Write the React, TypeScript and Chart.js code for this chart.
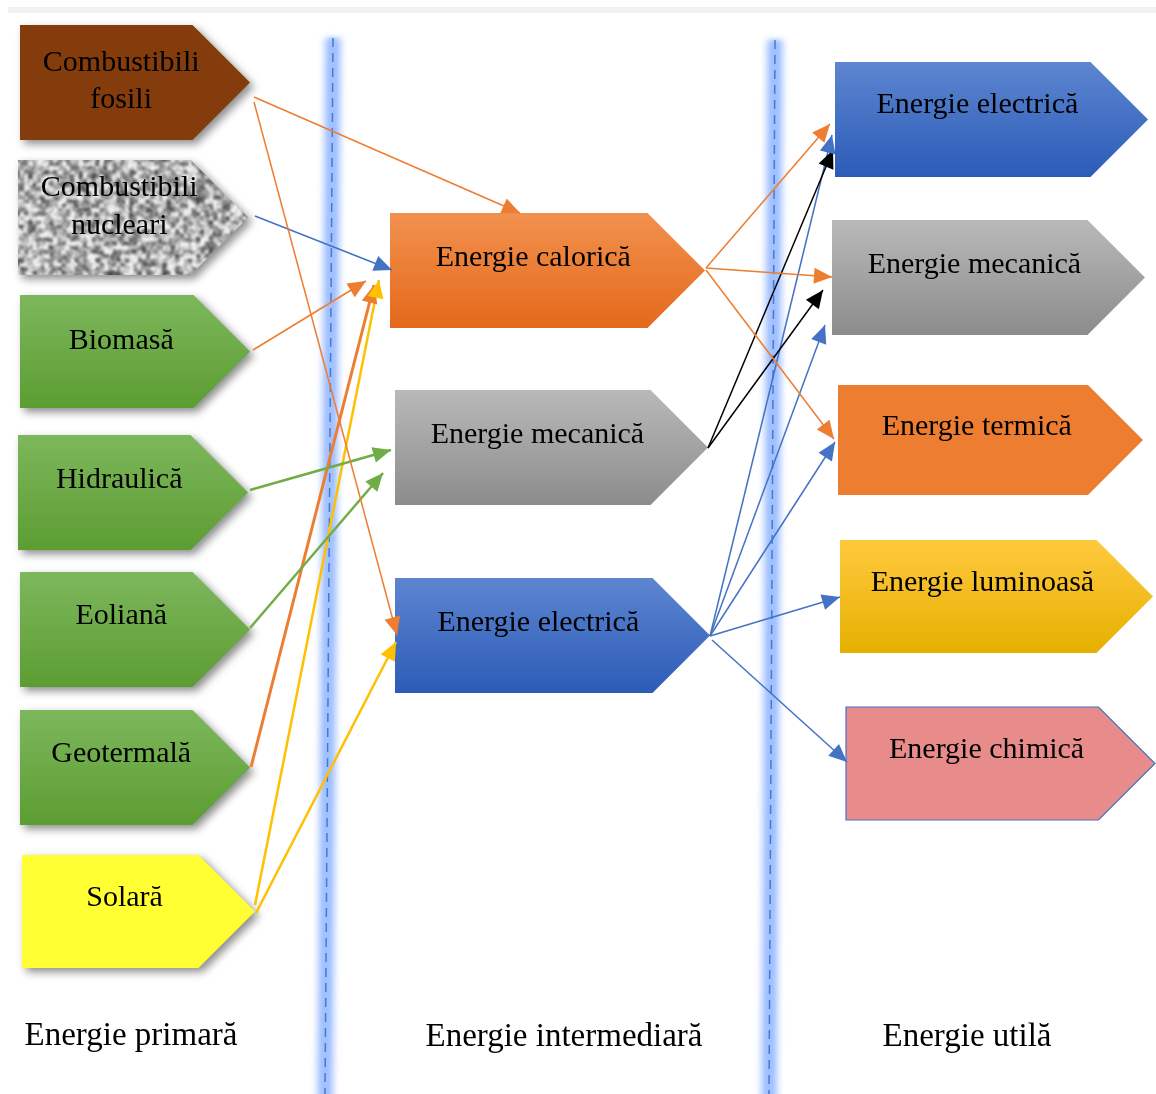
import React, { useEffect, useRef } from "react";
import { Chart, registerables } from "chart.js";

Chart.register(...registerables);

// ---------------- DATA ----------------
const primaryLabels: string[][] = [
  ["Combustibili", "fosili"],
  ["Combustibili", "nucleari"],
  ["Biomasă"],
  ["Hidraulică"],
  ["Eoliană"],
  ["Geotermală"],
  ["Solară"],
];
const intermediateLabels: string[] = ["Energie calorică", "Energie mecanică", "Energie electrică"];
const usefulLabels: string[] = [
  "Energie electrică",
  "Energie mecanică",
  "Energie termică",
  "Energie luminoasă",
  "Energie chimică",
];
const columnTitles: string[] = ["Energie primară", "Energie intermediară", "Energie utilă"];
// [primary index, intermediate index]
const primaryLinks: number[][] = [
  [0, 0], [0, 2], [1, 0], [2, 0], [3, 1], [4, 1], [5, 0], [6, 0], [6, 2],
];
// [intermediate index, useful index]
const intermediateLinks: number[][] = [
  [0, 0], [0, 1], [0, 2], [1, 0], [1, 1], [2, 0], [2, 1], [2, 2], [2, 3], [2, 4],
];

// ---------------- LAYOUT (positions, in diagram units) ----------------
const W = 1156;
const H = 1094;
// [left, top, tip-right, bottom]
const primaryBoxes = [
  [20, 25, 250, 140],
  [18, 160, 248, 275],
  [20, 295, 250, 408],
  [18, 435, 248, 550],
  [20, 572, 250, 687],
  [20, 710, 250, 825],
  [22, 855, 255, 968],
];
const primaryTextY = [[63, 100], [188, 226], [341], [480], [616], [754], [898]];
const intermediateBoxes = [
  [390, 213, 705, 328],
  [395, 390, 708, 505],
  [395, 578, 710, 693],
];
const intermediateTextY = [258, 435, 623];
const usefulBoxes = [
  [835, 62, 1148, 177],
  [832, 220, 1145, 335],
  [838, 385, 1143, 495],
  [840, 540, 1153, 653],
  [846, 707, 1155, 820],
];
const usefulTextY = [105, 265, 427, 583, 750];
const titlePos = [[131, 1036], [564, 1037], [967, 1037]];
const dividerLines = [[333, 38, 325, 1094], [775, 40, 769, 1094]];
// [x1, y1, x2 (arrow tip), y2]
const primaryLinkPaths = [
  [254, 97, 520, 213],
  [254, 102, 397, 635],
  [255, 216, 392, 270],
  [253, 350, 366, 281],
  [250, 490, 391, 450],
  [250, 628, 383, 473],
  [251, 767, 374, 285],
  [255, 905, 379, 280],
  [256, 913, 396, 642],
];
const intermediateLinkPaths = [
  [706, 268, 830, 124],
  [706, 268, 832, 277],
  [706, 270, 834, 439],
  [708, 448, 833, 150],
  [708, 448, 823, 290],
  [710, 636, 832, 135],
  [710, 636, 825, 325],
  [710, 636, 835, 442],
  [710, 636, 840, 597],
  [712, 640, 847, 762],
];

// ---------------- STYLES ----------------
const ORANGE = "#ED7D31";
const BLUE = "#4472C4";
const GREEN = "#70AD47";
const GOLD = "#FFC000";
const BLACK = "#000000";
const primaryLinkColors = [ORANGE, ORANGE, BLUE, ORANGE, GREEN, GREEN, ORANGE, GOLD, GOLD];
const primaryLinkWidths = [1.5, 1.5, 1.5, 1.5, 2.5, 2.5, 3, 2.5, 2.5];
const intermediateLinkColors = [ORANGE, ORANGE, ORANGE, BLACK, BLACK, BLUE, BLUE, BLUE, BLUE, BLUE];

type Fill = string | [string, string] | "noise";
const primaryFills: Fill[] = [
  "#843C0C",
  "noise",
  ["#7DB75C", "#5C9D32"],
  ["#7DB75C", "#5C9D32"],
  ["#7DB75C", "#5C9D32"],
  ["#7DB75C", "#5C9D32"],
  "#FFFF33",
];
const intermediateFills: Fill[] = [
  ["#F2914F", "#E4691A"],
  ["#B9B9B9", "#8C8C8C"],
  ["#5D85D0", "#2C5CB8"],
];
const usefulFills: Fill[] = [
  ["#5D85D0", "#2C5CB8"],
  ["#B9B9B9", "#8C8C8C"],
  "#ED7D31",
  ["#FFC93E", "#E6B000"],
  "#E88B8B",
];

function hash(i: number, j: number): number {
  let n = Math.imul(i, 374761393) + Math.imul(j, 668265263);
  n = Math.imul(n ^ (n >>> 13), 1274126177);
  n = n ^ (n >>> 16);
  return (n & 0xffff) / 65535;
}
function valueNoise(x: number, y: number, s: number): number {
  const gx = x / s, gy = y / s;
  const ix = Math.floor(gx), iy = Math.floor(gy);
  const fx = gx - ix, fy = gy - iy;
  const sx = fx * fx * (3 - 2 * fx), sy = fy * fy * (3 - 2 * fy);
  const a = hash(ix, iy), b = hash(ix + 1, iy), c = hash(ix, iy + 1), d = hash(ix + 1, iy + 1);
  return a + (b - a) * sx + (c - a) * sy + (a - b - c + d) * sx * sy;
}
function makeNoiseCanvas(w: number, h: number): HTMLCanvasElement {
  const raw = document.createElement("canvas");
  raw.width = w;
  raw.height = h;
  const rctx = raw.getContext("2d")!;
  const img = rctx.createImageData(w, h);
  for (let y = 0; y < h; y++) {
    for (let x = 0; x < w; x++) {
      let v = 0.65 * valueNoise(x, y, 4.2) + 0.35 * valueNoise(x + 57, y + 91, 2.1);
      v = Math.min(1, Math.max(0, (v - 0.5) * 1.7 + 0.62));
      const g = Math.round(70 + v * 170);
      const k = (y * w + x) * 4;
      img.data[k] = g;
      img.data[k + 1] = g;
      img.data[k + 2] = g;
      img.data[k + 3] = 255;
    }
  }
  rctx.putImageData(img, 0, 0);
  const out = document.createElement("canvas");
  out.width = w;
  out.height = h;
  const octx = out.getContext("2d")!;
  octx.filter = "blur(1px)";
  octx.drawImage(raw, 0, 0);
  return out;
}

export default function App() {
  const ref = useRef<HTMLCanvasElement>(null);

  useEffect(() => {
    const canvas = ref.current!;
    const noise = makeNoiseCanvas(260, 140);

    const datasets: any[] = [];
    primaryLinks.forEach((_, i) => {
      const p = primaryLinkPaths[i];
      datasets.push({
        data: [{ x: p[0], y: p[1] }, { x: p[2], y: p[3] }],
        borderColor: primaryLinkColors[i],
        borderWidth: primaryLinkWidths[i],
        showLine: true,
        pointRadius: 0,
      });
    });
    intermediateLinks.forEach((_, i) => {
      const p = intermediateLinkPaths[i];
      datasets.push({
        data: [{ x: p[0], y: p[1] }, { x: p[2], y: p[3] }],
        borderColor: intermediateLinkColors[i],
        borderWidth: 1.5,
        showLine: true,
        pointRadius: 0,
      });
    });

    const diagramPlugin = {
      id: "diagram",
      beforeDatasetsDraw(chart: any) {
        const ctx: CanvasRenderingContext2D = chart.ctx;
        const xs = chart.scales.x, ys = chart.scales.y;
        const X = (v: number) => xs.getPixelForValue(v);
        const Y = (v: number) => ys.getPixelForValue(v);

        ctx.save();
        ctx.fillStyle = "#FFFFFF";
        ctx.fillRect(0, 0, chart.width, chart.height);
        // top faint band
        ctx.fillStyle = "#F1F1F1";
        ctx.fillRect(X(8), Y(7), X(W) - X(8), Y(13) - Y(7));

        // dividers with glow
        dividerLines.forEach((d) => {
          ctx.save();
          ctx.filter = "blur(3px)";
          ctx.strokeStyle = "rgba(120,165,255,0.6)";
          ctx.lineWidth = 17;
          ctx.beginPath();
          ctx.moveTo(X(d[0]), Y(d[1]));
          ctx.lineTo(X(d[2]), Y(d[3]) + 10);
          ctx.stroke();
          ctx.restore();
          ctx.save();
          ctx.filter = "blur(1.5px)";
          ctx.strokeStyle = "rgba(150,185,255,0.55)";
          ctx.lineWidth = 9;
          ctx.beginPath();
          ctx.moveTo(X(d[0]), Y(d[1]));
          ctx.lineTo(X(d[2]), Y(d[3]) + 10);
          ctx.stroke();
          ctx.restore();
          ctx.save();
          ctx.strokeStyle = "#4A78D0";
          ctx.lineWidth = 1.5;
          ctx.setLineDash([9, 6]);
          ctx.beginPath();
          ctx.moveTo(X(d[0]), Y(d[1]));
          ctx.lineTo(X(d[2]), Y(d[3]));
          ctx.stroke();
          ctx.restore();
        });

        const pentagon = (b: number[]) => {
          const x0 = X(b[0]), y0 = Y(b[1]), x1 = X(b[2]), y1 = Y(b[3]);
          const p = (y1 - y0) / 2;
          ctx.beginPath();
          ctx.moveTo(x0, y0);
          ctx.lineTo(x1 - p, y0);
          ctx.lineTo(x1, (y0 + y1) / 2);
          ctx.lineTo(x1 - p, y1);
          ctx.lineTo(x0, y1);
          ctx.closePath();
        };
        const fillFor = (f: Fill, b: number[]) => {
          if (Array.isArray(f)) {
            const g = ctx.createLinearGradient(0, Y(b[1]), 0, Y(b[3]));
            g.addColorStop(0, f[0]);
            g.addColorStop(1, f[1]);
            return g;
          }
          return f;
        };
        const drawBox = (b: number[], f: Fill, shadow: boolean, stroke?: string) => {
          ctx.save();
          if (shadow) {
            ctx.shadowColor = "rgba(0,0,0,0.45)";
            ctx.shadowBlur = 9;
            ctx.shadowOffsetX = 4;
            ctx.shadowOffsetY = 4;
          }
          pentagon(b);
          if (f === "noise") {
            ctx.fillStyle = "#A8A8A8";
            ctx.fill();
            ctx.restore();
            ctx.save();
            pentagon(b);
            ctx.clip();
            ctx.drawImage(noise, X(b[0]) - 5, Y(b[1]) - 5);
          } else {
            ctx.fillStyle = fillFor(f, b) as any;
            ctx.fill();
          }
          ctx.restore();
          if (stroke) {
            ctx.save();
            pentagon(b);
            ctx.strokeStyle = stroke;
            ctx.lineWidth = 1.2;
            ctx.stroke();
            ctx.restore();
          }
        };
        const text = (s: string, x: number, y: number, font: string) => {
          ctx.save();
          ctx.font = font;
          ctx.fillStyle = "#000000";
          ctx.textAlign = "center";
          ctx.textBaseline = "middle";
          ctx.fillText(s, X(x), Y(y));
          ctx.restore();
        };
        const boxFont = '30px "Liberation Serif", "Times New Roman", serif';

        primaryBoxes.forEach((b, i) => {
          drawBox(b, primaryFills[i], true);
          const tx = b[0] + 0.44 * (b[2] - b[0]);
          primaryLabels[i].forEach((line, k) => text(line, tx, primaryTextY[i][k], boxFont));
        });
        intermediateBoxes.forEach((b, i) => {
          drawBox(b, intermediateFills[i], false);
          text(intermediateLabels[i], b[0] + 0.455 * (b[2] - b[0]), intermediateTextY[i], boxFont);
        });
        usefulBoxes.forEach((b, i) => {
          drawBox(b, usefulFills[i], false, i === 4 ? BLUE : undefined);
          text(usefulLabels[i], b[0] + 0.455 * (b[2] - b[0]), usefulTextY[i], boxFont);
        });
        columnTitles.forEach((t, i) =>
          text(t, titlePos[i][0], titlePos[i][1], '33px "Liberation Serif", "Times New Roman", serif')
        );
        ctx.restore();
      },
    };

    const arrowPlugin = {
      id: "arrows",
      afterDatasetsDraw(chart: any) {
        const ctx: CanvasRenderingContext2D = chart.ctx;
        chart.data.datasets.forEach((ds: any, i: number) => {
          const meta = chart.getDatasetMeta(i);
          const a = meta.data[0], b = meta.data[1];
          if (!a || !b) return;
          const ang = Math.atan2(b.y - a.y, b.x - a.x);
          const L = 18, w = 8;
          const dx = Math.cos(ang), dy = Math.sin(ang);
          ctx.save();
          ctx.fillStyle = ds.borderColor;
          ctx.beginPath();
          ctx.moveTo(b.x, b.y);
          ctx.lineTo(b.x - L * dx - w * dy, b.y - L * dy + w * dx);
          ctx.lineTo(b.x - L * dx + w * dy, b.y - L * dy - w * dx);
          ctx.closePath();
          ctx.fill();
          ctx.restore();
        });
      },
    };

    const chart = new Chart(canvas, {
      type: "scatter",
      data: { datasets },
      options: {
        responsive: false,
        animation: false,
        devicePixelRatio: 1,
        events: [],
        layout: { padding: 0 },
        scales: {
          x: { type: "linear", min: 0, max: W, display: false },
          y: { type: "linear", min: 0, max: H, reverse: true, display: false },
        },
        plugins: { legend: { display: false }, tooltip: { enabled: false } },
        elements: { line: { tension: 0 } },
      },
      plugins: [diagramPlugin, arrowPlugin],
    } as any);

    return () => chart.destroy();
  }, []);

  return (
    <div style={{ position: "fixed", left: 0, top: 0, width: W, height: H, background: "#fff" }}>
      <canvas ref={ref} width={W} height={H} style={{ width: W, height: H, display: "block" }} />
    </div>
  );
}
